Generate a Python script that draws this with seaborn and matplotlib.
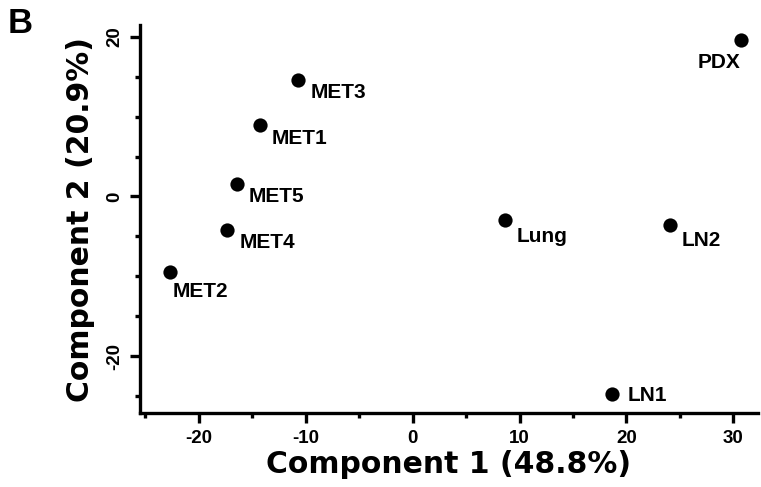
import matplotlib
matplotlib.use("Agg")
import matplotlib.pyplot as plt
import seaborn as sns
import pandas as pd
from matplotlib.ticker import MultipleLocator

samples = ["MET3", "MET1", "MET5", "MET4", "MET2", "PDX", "Lung", "LN2", "LN1"]
pc1 = [-10.7, -14.3, -16.4, -17.4, -22.7, 30.7, 8.6, 24.1, 18.65]
pc2 = [14.6, 8.9, 1.6, -4.2, -9.5, 19.6, -3.0, -3.6, -24.8]

df = pd.DataFrame({"pc1": pc1, "pc2": pc2, "sample": samples})

# label offsets in pixels (dx, dy, ha, va)
label_pos = {
    "MET3": (12, -3, "left", "top"),
    "MET1": (12, -4, "left", "top"),
    "MET5": (11, -3, "left", "top"),
    "MET4": (13, -3, "left", "top"),
    "MET2": (3, -10, "left", "top"),
    "PDX": (0, -13, "right", "top"),
    "Lung": (12, -7, "left", "top"),
    "LN2": (11, -6, "left", "top"),
    "LN1": (16, -1, "left", "center"),
}

sns.set_style("ticks")
plt.rcParams["font.family"] = ["Liberation Sans", "DejaVu Sans"]
plt.rcParams["font.weight"] = "bold"
plt.rcParams["text.color"] = "black"
plt.rcParams["axes.labelcolor"] = "black"
plt.rcParams["xtick.color"] = "black"
plt.rcParams["ytick.color"] = "black"
plt.rcParams["axes.unicode_minus"] = False

fig = plt.figure(figsize=(7.61, 4.87), dpi=100)
ax = fig.add_axes([0.184, 0.151, 0.812, 0.798])

sns.scatterplot(data=df, x="pc1", y="pc2", color="black", s=105,
                edgecolor="black", linewidth=0, ax=ax, zorder=3)

for i, r in df.iterrows():
    dx, dy, ha, va = label_pos[r["sample"]]
    ax.annotate(r["sample"], (r["pc1"], r["pc2"]), xytext=(dx, dy),
                textcoords="offset pixels", ha=ha, va=va,
                fontsize=15, fontweight="bold", color="black")

ax.set_xlim(-25.5, 32.3)
ax.set_ylim(-27.2, 21.5)
ax.xaxis.set_major_locator(MultipleLocator(10))
ax.xaxis.set_minor_locator(MultipleLocator(5))
ax.yaxis.set_major_locator(MultipleLocator(20))
ax.yaxis.set_minor_locator(MultipleLocator(5))

sns.despine(ax=ax)
for s in ["left", "bottom"]:
    ax.spines[s].set_linewidth(2.4)
    ax.spines[s].set_color("black")

ax.tick_params(which="major", length=7, width=2.4, labelsize=13.5, pad=5)
ax.tick_params(which="minor", length=3.5, width=2.4)
for lab in ax.get_yticklabels():
    lab.set_rotation(90)
    lab.set_va("center")
for lab in ax.get_xticklabels() + ax.get_yticklabels():
    lab.set_fontweight("bold")

ax.set_xlabel("Component 1 (48.8%)", fontsize=21.5, fontweight="bold",
              family=["DejaVu Sans"], labelpad=2)
ax.set_ylabel("Component 2 (20.9%)", fontsize=21.5, fontweight="bold",
              family=["DejaVu Sans"], labelpad=8)

fig.text(0.01, 0.985, "B", fontsize=25, fontweight="bold", va="top", ha="left")

fig.savefig("out.png", dpi=100)
